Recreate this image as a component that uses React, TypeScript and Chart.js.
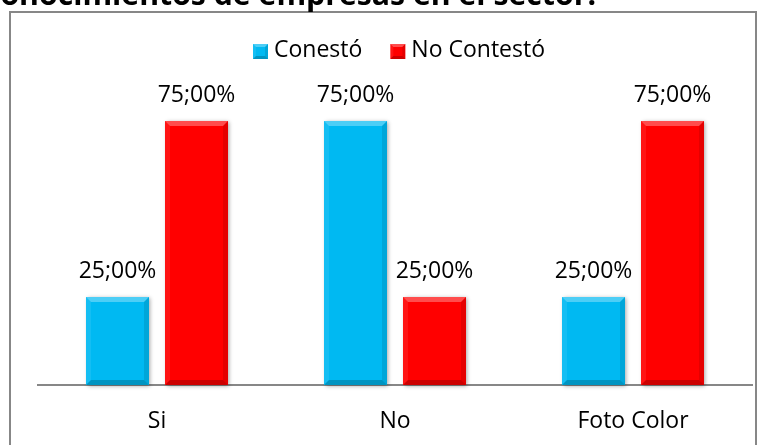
import React, { useEffect, useRef } from "react";
import { Chart, registerables } from "chart.js";

Chart.register(...registerables);

const categories = ["Si", "No", "Foto Color"];
const seriesNames = ["Conestó", "No Contestó"];
const conestoValues = [25, 75, 25];
const noContestoValues = [75, 25, 75];
const seriesColors = ["#00B9F2", "#FF0000"];
const yMax = 80;
const titleText = "Conocimientos de empresas en el sector.";
const titleVisible = "onocimientos de empresas en el sector.";

const FONT = '"Open Sans", "DejaVu Sans", sans-serif';

const fmt = (v: number) => v.toFixed(2).replace(".", ";") + "%";

function bevelRect(ctx: CanvasRenderingContext2D, l: number, t: number, r: number, btm: number, b: number) {
  const poly = (pts: number[][], fill: string) => {
    ctx.beginPath();
    ctx.moveTo(pts[0][0], pts[0][1]);
    for (let i = 1; i < pts.length; i++) ctx.lineTo(pts[i][0], pts[i][1]);
    ctx.closePath();
    ctx.fillStyle = fill;
    ctx.fill();
  };
  poly([[l, t], [r, t], [r - b, t + b], [l + b, t + b]], "rgba(255,255,255,0.30)");
  poly([[l, t], [l + b, t + b], [l + b, btm - b], [l, btm]], "rgba(255,255,255,0.08)");
  poly([[r, t], [r, btm], [r - b, btm - b], [r - b, t + b]], "rgba(0,0,0,0.10)");
  poly([[l, btm], [r, btm], [r - b, btm - b], [l + b, btm - b]], "rgba(0,0,0,0.20)");
}

const framePlugin = {
  id: "frame",
  beforeDraw(chart: any) {
    const ctx = chart.ctx;
    ctx.save();
    ctx.fillStyle = "#FFFFFF";
    ctx.fillRect(0, 0, chart.width, chart.height);
    ctx.strokeStyle = "#878787";
    ctx.lineWidth = 2;
    ctx.strokeRect(10, 12, 746, 460);
    // title (clipped by the top of the picture)
    ctx.font = `bold 100px ${FONT}`;
    const w = ctx.measureText(titleVisible).width;
    const size = (100 * 596) / w;
    ctx.font = `bold ${size}px ${FONT}`;
    ctx.fillStyle = "#000";
    ctx.textAlign = "right";
    ctx.textBaseline = "alphabetic";
    ctx.fillText(titleText, 596, 4.5);
    ctx.restore();
  },
};

const barStylePlugin = {
  id: "barStyle",
  beforeDatasetsDraw(chart: any) {
    const ctx = chart.ctx;
    chart.data.datasets.forEach((ds: any, di: number) => {
      const meta = chart.getDatasetMeta(di);
      meta.data.forEach((el: any) => {
        const { x, y, base, width } = el.getProps(["x", "y", "base", "width"], true);
        ctx.save();
        ctx.shadowColor = "rgba(0,0,0,0.35)";
        ctx.shadowBlur = 4;
        ctx.shadowOffsetX = 1.5;
        ctx.shadowOffsetY = 1;
        ctx.fillStyle = ds.backgroundColor;
        ctx.fillRect(x - width / 2, y, width, base - y);
        ctx.restore();
      });
    });
  },
  afterDatasetsDraw(chart: any) {
    const ctx = chart.ctx;
    chart.data.datasets.forEach((ds: any, di: number) => {
      const meta = chart.getDatasetMeta(di);
      meta.data.forEach((el: any, i: number) => {
        const { x, y, base, width } = el.getProps(["x", "y", "base", "width"], true);
        ctx.save();
        bevelRect(ctx, x - width / 2, y, x + width / 2, base, 5);
        ctx.font = `23px ${FONT}`;
        ctx.fillStyle = "#000";
        ctx.textAlign = "center";
        ctx.textBaseline = "alphabetic";
        ctx.fillText(fmt(ds.data[i]), x, y - 19);
        ctx.restore();
      });
    });
  },
};

const legendPlugin = {
  id: "customLegend",
  afterDraw(chart: any) {
    const ctx = chart.ctx;
    ctx.save();
    ctx.font = `23px ${FONT}`;
    const box = 15;
    const gapText = 6;
    const gapItem = 28;
    const items = chart.data.datasets.map((ds: any) => ({
      label: ds.label,
      color: ds.backgroundColor,
      w: ctx.measureText(ds.label).width,
    }));
    const total =
      items.reduce((s: number, it: any) => s + box + gapText + it.w, 0) + gapItem * (items.length - 1);
    let x = 399 - total / 2;
    items.forEach((it: any) => {
      ctx.fillStyle = it.color;
      ctx.fillRect(x, 44, box, box);
      bevelRect(ctx, x, 44, x + box, 44 + box, 3);
      ctx.fillStyle = "#000";
      ctx.textAlign = "left";
      ctx.textBaseline = "alphabetic";
      ctx.fillText(it.label, x + box + gapText, 57);
      x += box + gapText + it.w + gapItem;
    });
    ctx.restore();
  },
};

export default function App() {
  const ref = useRef<HTMLCanvasElement | null>(null);
  useEffect(() => {
    if (!ref.current) return;
    const chart = new Chart(ref.current, {
      type: "bar",
      data: {
        labels: categories,
        datasets: [
          { label: seriesNames[0], data: conestoValues, backgroundColor: seriesColors[0], borderWidth: 0 },
          { label: seriesNames[1], data: noContestoValues, backgroundColor: seriesColors[1], borderWidth: 0 },
        ],
      },
      options: {
        responsive: false,
        animation: false,
        devicePixelRatio: 1,
        layout: { padding: { top: 103.4, left: 38, right: 15, bottom: 0 } },
        datasets: { bar: { categoryPercentage: 0.664, barPercentage: 0.797 } },
        plugins: { legend: { display: false }, title: { display: false }, tooltip: { enabled: false } },
        scales: {
          x: {
            grid: { display: false, drawTicks: false },
            border: { display: true, color: "#878787", width: 2 },
            ticks: { color: "#000", font: { family: FONT, size: 23 }, padding: 23 },
            afterFit: (scale: any) => {
              scale.height = 60;
            },
          },
          y: { display: false, min: 0, max: yMax },
        },
      },
      plugins: [framePlugin, barStylePlugin, legendPlugin],
    } as any);
    return () => chart.destroy();
  }, []);
  return (
    <div style={{ position: "fixed", left: 0, top: 0, width: 767, height: 445, background: "#fff" }}>
      <canvas ref={ref} width={767} height={445} style={{ width: 767, height: 445, display: "block" }} />
    </div>
  );
}
